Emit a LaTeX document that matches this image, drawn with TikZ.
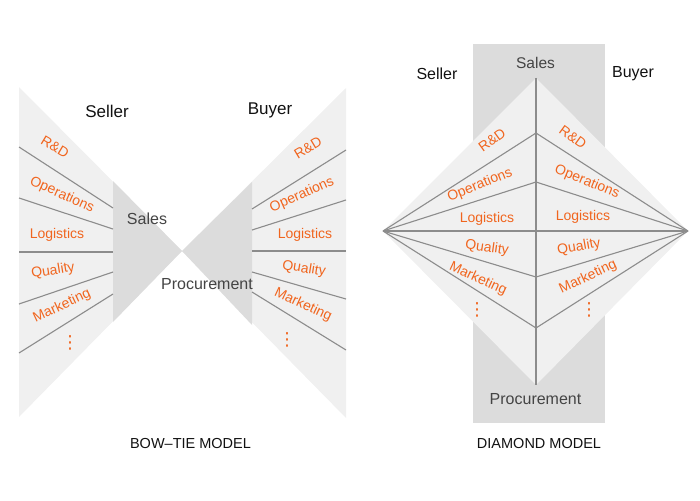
\documentclass[tikz,border=0pt]{standalone}
\usepackage{fontspec}
\setmainfont{Liberation Sans}
\newfontfamily\dotsfont{DejaVu Sans}
\definecolor{lightfill}{HTML}{F0F0F0}
\definecolor{darkfill}{HTML}{DCDCDC}
\definecolor{linegray}{HTML}{8C8C8C}
\definecolor{lborange}{HTML}{F0651E}
\definecolor{headtxt}{HTML}{111111}
\definecolor{roletxt}{HTML}{444444}
\newcommand{\myvdots}{{\dotsfont\fontsize{18}{18}\selectfont ⋮}}
\begin{document}
\begin{tikzpicture}[x=1pt,y=-1pt,
  divline/.style={draw=linegray,line width=1.1pt},
  func/.style={text=lborange,font=\fontsize{14}{16}\selectfont,inner sep=0pt},
  party/.style={text=headtxt,font=\fontsize{17}{19}\selectfont,inner sep=0pt},
  dparty/.style={text=headtxt,font=\fontsize{16}{18}\selectfont,inner sep=0pt},
  role/.style={text=roletxt,font=\fontsize{16}{18}\selectfont,inner sep=0pt},
  title/.style={text=headtxt,font=\fontsize{14.5}{16}\selectfont,inner sep=0pt}]
\useasboundingbox (0,0) rectangle (700,500);
% ---------------- BOW-TIE ----------------
\fill[lightfill] (19,87) -- (182,251) -- (19,417) -- cycle;
\fill[darkfill] (113,181) -- (182,251) -- (113,322) -- cycle;
\fill[lightfill] (346,88) -- (182,251) -- (346,418) -- cycle;
\fill[darkfill] (252,182) -- (182,251) -- (252,325) -- cycle;
% left divider coordinates
\coordinate (la1) at (19,147);  \coordinate (lb1) at (113,208);
\coordinate (la2) at (19,198);  \coordinate (lb2) at (113,229);
\coordinate (la3) at (19,252);  \coordinate (lb3) at (113,252);
\coordinate (la4) at (19,304);  \coordinate (lb4) at (113,272);
\coordinate (la5) at (19,353);  \coordinate (lb5) at (113,294);
\foreach \i in {1,...,5} {\draw[divline] (la\i) -- (lb\i);}
% right divider coordinates
\coordinate (ra1) at (252,209); \coordinate (rb1) at (346,150);
\coordinate (ra2) at (252,230); \coordinate (rb2) at (346,200);
\coordinate (ra3) at (252,251); \coordinate (rb3) at (346,251);
\coordinate (ra4) at (252,272); \coordinate (rb4) at (346,299);
\coordinate (ra5) at (252,292); \coordinate (rb5) at (346,350);
\foreach \i in {1,...,5} {\draw[divline] (ra\i) -- (rb\i);}
% labels
\node[party] (bseller) at (107,111) {Seller};
\node[party] (bbuyer) at (270,110) {Buyer};
\node[role] (bsales) at (147,219) {Sales};
\node[role] (bproc) at (207,284) {Procurement};
\node[func,rotate=-31] (blrd) at (55,147) {R\&D};
\node[func,rotate=-24] (blops) at (62,195) {Operations};
\node[func] (bllog) at (57,235) {Logistics};
\node[func,rotate=9] (blqual) at (53,271) {Quality};
\node[func,rotate=25] (blmkt) at (62,306) {Marketing};
\node[func] (bldots) at (70,343) {\myvdots};
\node[func,rotate=31] (brrd) at (308,148) {R\&D};
\node[func,rotate=24] (brops) at (302,195) {Operations};
\node[func] (brlog) at (305,235) {Logistics};
\node[func,rotate=-9] (brqual) at (304,269) {Quality};
\node[func,rotate=-25] (brmkt) at (303,305) {Marketing};
\node[func] (brdots) at (287,340) {\myvdots};
\node[title] (btitle) at (190.5,444) {BOW–TIE MODEL};
% ---------------- DIAMOND ----------------
\fill[darkfill] (473,44) rectangle (605,423);
\coordinate (dl) at (383,231);
\coordinate (dr) at (688,231);
\coordinate (dt) at (536,78);
\coordinate (db) at (536,385);
\fill[lightfill] (dl) -- (dt) -- (dr) -- (db) -- cycle;
\coordinate (dc1) at (536,133);
\coordinate (dc2) at (536,182);
\coordinate (dc3) at (536,231);
\coordinate (dc4) at (536,277);
\coordinate (dc5) at (536,328);
\foreach \i in {1,...,5} {\draw[divline] (dl) -- (dc\i) -- (dr);}
\draw[divline] (dt) -- (db);
\node[dparty] (dseller) at (437,74) {Seller};
\node[dparty] (dbuyer) at (633,74) {Buyer};
\node[role,font=\fontsize{15.5}{18}\selectfont] (dsales) at (535.5,63) {Sales};
\node[role] (dproc) at (535.5,399) {Procurement};
\node[func,rotate=36] (dlrd) at (492,140) {R\&D};
\node[func,rotate=22] (dlops) at (480,185) {Operations};
\node[func] (dllog) at (487,219) {Logistics};
\node[func,rotate=-8] (dlqual) at (487,248) {Quality};
\node[func,rotate=-25] (dlmkt) at (478,279) {Marketing};
\node[func] (dldots) at (477,310) {\myvdots};
\node[func,rotate=-36] (drrd) at (573,137) {R\&D};
\node[func,rotate=-22] (drops) at (587,182) {Operations};
\node[func] (drlog) at (583,217) {Logistics};
\node[func,rotate=10] (drqual) at (579,247) {Quality};
\node[func,rotate=25] (drmkt) at (588,277) {Marketing};
\node[func] (drdots) at (589,310) {\myvdots};
\node[title] (dtitle) at (539,444) {DIAMOND MODEL};
\end{tikzpicture}
\end{document}
